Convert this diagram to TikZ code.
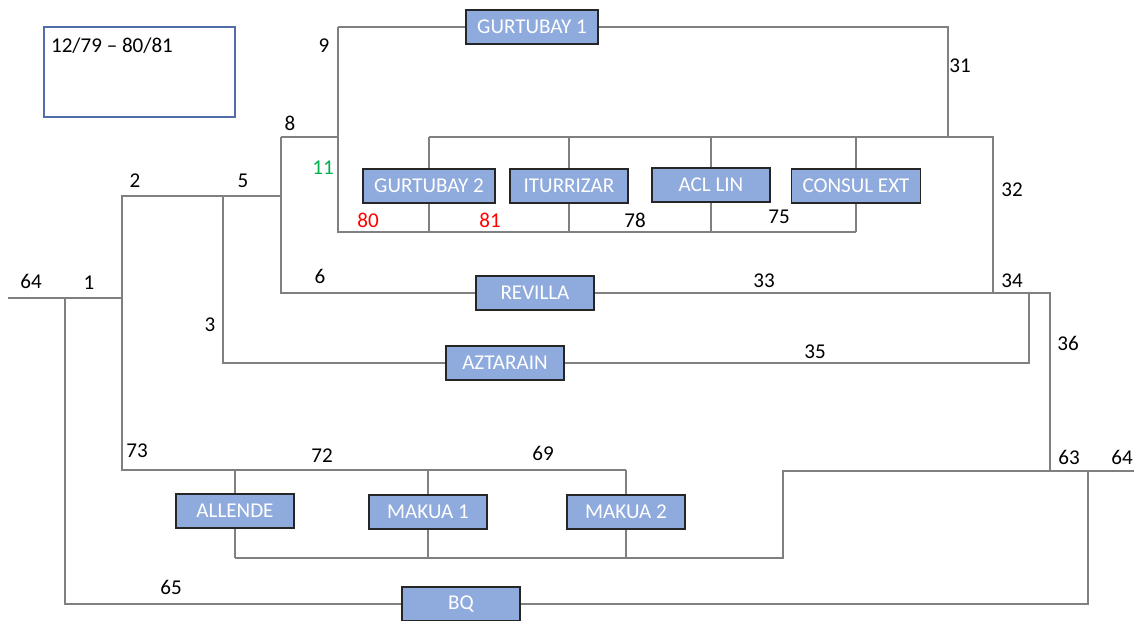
\documentclass[tikz,border=0pt]{standalone}
\usepackage{fontspec}
\setmainfont{Carlito}
\usepackage{tikz}

\definecolor{boxblue}{RGB}{143,170,220}
\definecolor{boxedge}{RGB}{38,38,38}
\definecolor{linegray}{RGB}{128,128,128}
\definecolor{legendblue}{RGB}{82,110,170}
\definecolor{numred}{RGB}{255,0,0}
\definecolor{numgreen}{RGB}{0,176,80}

\begin{document}
\begin{tikzpicture}[x=0.02cm,y=-0.02cm,
	font=\fontsize{12}{14}\selectfont,
	station/.style={draw=boxedge,fill=boxblue,line width=1.1pt,text=white,
		minimum width=2.36cm,minimum height=0.68cm,inner xsep=0.22cm},
	wire/.style={draw=linegray,line width=0.8pt},
	num/.style={inner sep=1pt}]
	\useasboundingbox (0,0) rectangle (1137,620);

	% legend
	\draw [legendblue,line width=0.7pt] (44,27) rectangle (235,117);
	\node [num,anchor=west] (period) at (49,46) {12/79 -- 80/81};

	% substations
	\node [station] (gurtubayA) at (532,27) {GURTUBAY 1};
	\node [station] (gurtubayB) at (429,186) {GURTUBAY 2};
	\node [station] (iturrizar) at (569,186) {ITURRIZAR};
	\node [station] (acllin) at (711,185) {ACL LIN};
	\node [station] (consulext) at (856,186) {CONSUL EXT};
	\node [station] (revilla) at (535,293) {REVILLA};
	\node [station] (aztarain) at (505,363) {AZTARAIN};
	\node [station] (allende) at (235,511) {ALLENDE};
	\node [station] (makuaA) at (428,512) {MAKUA 1};
	\node [station] (makuaB) at (626,512) {MAKUA 2};
	\node [station] (bq) at (461,604) {BQ};

	% junctions
	\coordinate (in64) at (8,298);
	\coordinate (j65) at (65,298);
	\coordinate (j1) at (122,298);
	\coordinate (j2) at (122,196);
	\coordinate (j5) at (223,196);
	\coordinate (j8) at (281,196);
	\coordinate (j8top) at (281,137);
	\coordinate (j9) at (338,137);
	\coordinate (j9top) at (338,27);
	\coordinate (j31top) at (948,27);
	\coordinate (topbus) at (948,137);
	\coordinate (j32) at (993,137);
	\coordinate (j34) at (993,293);
	\coordinate (j6) at (281,293);
	\coordinate (j35top) at (1029,293);
	\coordinate (j35) at (1029,363);
	\coordinate (j3) at (223,363);
	\coordinate (j36top) at (1050,293);
	\coordinate (j36) at (1050,471);
	\coordinate (lowbus) at (338,232);
	\coordinate (j73) at (122,470);
	\coordinate (j69) at (626,470);
	\coordinate (makbus) at (783,558);
	\coordinate (j63) at (783,471);
	\coordinate (out64) at (1134,471);
	\coordinate (j65bot) at (65,604);
	\coordinate (jbq) at (1088,604);
	\coordinate (jbqtop) at (1088,471);

	% feeders
	\draw [wire] (in64) -- (j1) -- (j2) -- (j8);
	\draw [wire] (j65) -- (j65bot) -- (bq.west);
	\draw [wire] (bq.east) -- (jbq) -- (jbqtop);
	\draw [wire] (j8top) -- (j8) -- (j6) -- (revilla.west);
	\draw [wire] (revilla.east) -- (j36top) -- (j36);
	\draw [wire] (j8top) -- (j9);
	\draw [wire] (j9top) -- (lowbus) -- (consulext.south |- lowbus);
	\draw [wire] (j9top) -- (gurtubayA.west);
	\draw [wire] (gurtubayA.east) -- (j31top) -- (topbus);
	\draw [wire] (gurtubayB.north |- topbus) -- (j32) -- (j34);
	\draw [wire] (j5) -- (j3) -- (aztarain.west);
	\draw [wire] (aztarain.east) -- (j35) -- (j35top);
	\draw [wire] (j1) -- (j73) -- (j69);
	\draw [wire] (allende.south |- makbus) -- (makbus) -- (j63) -- (out64);

	% drops to the boxes
	\foreach \stn in {gurtubayB,iturrizar,acllin,consulext} {
		\draw [wire] (\stn.north) -- (\stn.north |- topbus);
		\draw [wire] (\stn.south) -- (\stn.south |- lowbus);
	}
	\foreach \stn in {allende,makuaA,makuaB} {
		\draw [wire] (\stn.north) -- (\stn.north |- j73);
		\draw [wire] (\stn.south) -- (\stn.south |- makbus);
	}

	% numbers
	\node [num] (n64a) at (31,281) {64};
	\node [num] (n1) at (89,283) {1};
	\node [num] (n2) at (135,181) {2};
	\node [num] (n5) at (243,181) {5};
	\node [num] (n8) at (290,123) {8};
	\node [num] (n9) at (324,46) {9};
	\node [num,text=numgreen] (n11) at (323,168) {11};
	\node [num,text=numred] (n80) at (368,220) {80};
	\node [num,text=numred] (n81) at (490,220) {81};
	\node [num] (n78) at (635,220) {78};
	\node [num] (n75) at (779,217) {75};
	\node [num] (n31) at (960,66) {31};
	\node [num] (n32) at (1012,190) {32};
	\node [num] (n33) at (764,281) {33};
	\node [num] (n34) at (1012,281) {34};
	\node [num] (n35) at (815,352) {35};
	\node [num] (n36) at (1068,343) {36};
	\node [num] (n6) at (320,276) {6};
	\node [num] (n3) at (210,325) {3};
	\node [num] (n73) at (137,451) {73};
	\node [num] (n72) at (322,456) {72};
	\node [num] (n69) at (543,453) {69};
	\node [num] (n63) at (1069,457) {63};
	\node [num] (n64b) at (1122,457) {64};
	\node [num] (n65) at (171,587) {65};
\end{tikzpicture}
\end{document}
